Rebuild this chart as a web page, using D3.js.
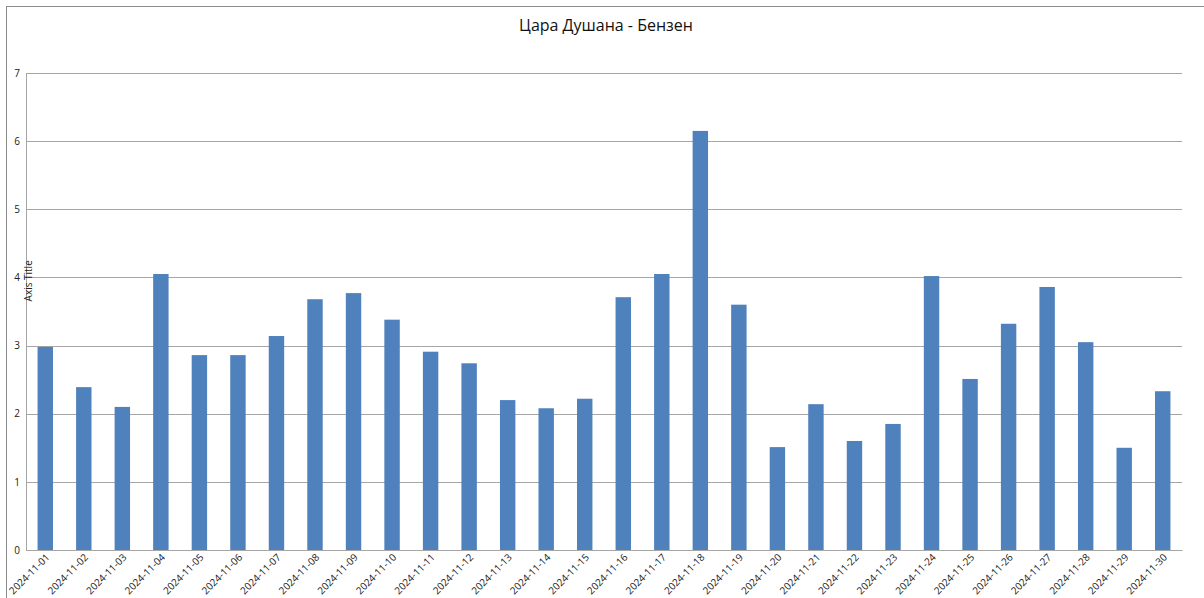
<!DOCTYPE html>
<html lang="en">
<head>
  <meta charset="utf-8"/>
  <script src="https://d3js.org/d3.v7.min.js"></script>
  <style>
    body { margin: 0; background: #fff; }
    svg { font-family: "Open Sans", sans-serif; }
    .grid line { stroke: #a6a6a6; stroke-width: 1px; }
    .tick text { fill: #222; }
  </style>
</head>
<body>
<div id="chart"></div>
<script>
  // Data
  const dates = [
    "2024-11-01","2024-11-02","2024-11-03","2024-11-04","2024-11-05","2024-11-06",
    "2024-11-07","2024-11-08","2024-11-09","2024-11-10","2024-11-11","2024-11-12",
    "2024-11-13","2024-11-14","2024-11-15","2024-11-16","2024-11-17","2024-11-18",
    "2024-11-19","2024-11-20","2024-11-21","2024-11-22","2024-11-23","2024-11-24",
    "2024-11-25","2024-11-26","2024-11-27","2024-11-28","2024-11-29","2024-11-30"
  ];
  const benzene = [
    2.98, 2.39, 2.10, 4.05, 2.86, 2.86, 3.14, 3.68, 3.77, 3.38,
    2.91, 2.74, 2.20, 2.08, 2.22, 3.71, 4.05, 6.15, 3.60, 1.51,
    2.14, 1.60, 1.85, 4.02, 2.51, 3.32, 3.86, 3.05, 1.50, 2.33
  ];
  const yTicks = [0, 1, 2, 3, 4, 5, 6, 7];
  const chartTitle = "Цара Душана - Бензен";
  const yTitle = "Axis Title";

  const width = 1204, height = 598;
  const margin = {top: 73, right: 22, bottom: 48, left: 26};

  const svg = d3.select("#chart").append("svg")
    .attr("width", width)
    .attr("height", height);

  // outer frame of the chart object
  svg.append("rect")
    .attr("x", 6.5).attr("y", 6.5)
    .attr("width", width).attr("height", height)
    .attr("fill", "none")
    .attr("stroke", "#8c8c8c");

  const x = d3.scaleBand()
    .domain(dates)
    .range([margin.left, width - margin.right])
    .paddingInner(0.6)
    .paddingOuter(0.3);

  const y = d3.scaleLinear()
    .domain([0, 7])
    .range([height - margin.bottom, margin.top]);

  // gridlines
  svg.append("g")
    .attr("class", "grid")
    .selectAll("line")
    .data(yTicks)
    .enter()
    .append("line")
    .attr("x1", margin.left)
    .attr("x2", width - margin.right)
    .attr("y1", d => Math.round(y(d)) + 0.5)
    .attr("y2", d => Math.round(y(d)) + 0.5);

  // left axis line
  svg.append("line")
    .attr("x1", margin.left + 0.5).attr("x2", margin.left + 0.5)
    .attr("y1", y(7)).attr("y2", y(0))
    .attr("stroke", "#a6a6a6");

  // bars
  svg.append("g")
    .selectAll("rect")
    .data(benzene)
    .enter()
    .append("rect")
    .attr("x", (d, i) => x(dates[i]))
    .attr("width", x.bandwidth())
    .attr("y", d => y(d))
    .attr("height", d => y(0) - y(d))
    .attr("fill", "#4f81bd");

  // y tick labels
  const yAxis = d3.axisLeft(y).tickValues(yTicks).tickSize(0).tickPadding(6)
    .tickFormat(d3.format("d"));
  svg.append("g")
    .attr("transform", `translate(${margin.left},0)`)
    .call(yAxis)
    .call(g => g.select(".domain").remove())
    .selectAll("text")
    .attr("font-size", "10px")
    .attr("font-family", "Open Sans, sans-serif");

  // x tick labels, rotated
  const xAxis = d3.axisBottom(x).tickSize(0).tickPadding(0);
  svg.append("g")
    .attr("transform", `translate(0,${height - margin.bottom})`)
    .call(xAxis)
    .call(g => g.select(".domain").attr("stroke", "#a6a6a6"))
    .selectAll("text")
    .attr("font-size", "10px")
    .attr("font-family", "Open Sans, sans-serif")
    .attr("text-anchor", "end")
    .attr("dy", 0)
    .attr("transform", "translate(5,8) rotate(-45)");

  // title
  svg.append("text")
    .attr("x", 606)
    .attr("y", 31)
    .attr("text-anchor", "middle")
    .attr("font-size", "16px")
    .attr("fill", "#111")
    .text(chartTitle);

  // y axis title
  svg.append("text")
    .attr("transform", `translate(32,${y(3.95)}) rotate(-90)`)
    .attr("text-anchor", "middle")
    .attr("font-size", "10px")
    .attr("fill", "#222")
    .text(yTitle);
</script>
</body>
</html>
